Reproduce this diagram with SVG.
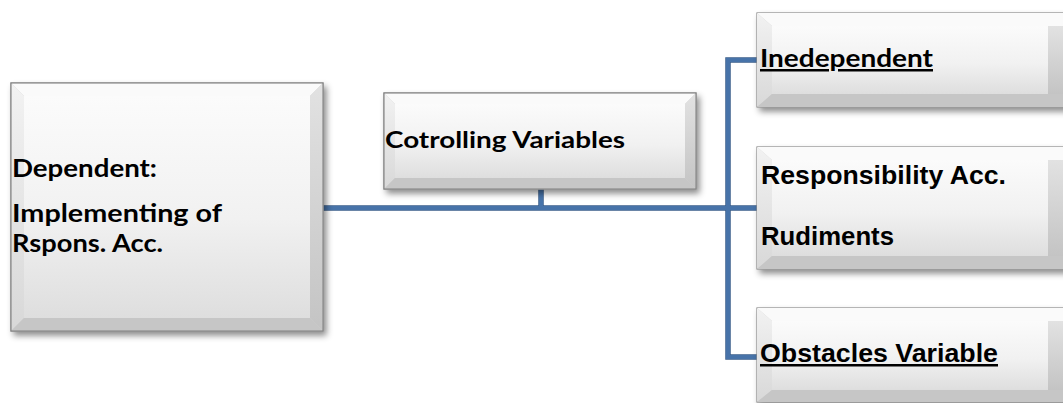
<svg xmlns="http://www.w3.org/2000/svg" width="1063" height="403" viewBox="0 0 1063 403">
<defs>
<linearGradient id="face" x1="0" y1="0" x2="0" y2="1"><stop offset="0" stop-color="#fbfbfb"/><stop offset="0.55" stop-color="#f1f1f1"/><stop offset="1" stop-color="#dedede"/></linearGradient>
<linearGradient id="lside" x1="0" y1="0" x2="0" y2="1"><stop offset="0" stop-color="#f2f2f2"/><stop offset="1" stop-color="#d8d8d8"/></linearGradient>
<linearGradient id="rside" x1="0" y1="0" x2="0" y2="1"><stop offset="0" stop-color="#e2e2e2"/><stop offset="1" stop-color="#c4c4c4"/></linearGradient>
<filter id="sh" x="-10%" y="-10%" width="130%" height="140%"><feDropShadow dx="3" dy="4" stdDeviation="3" flood-color="#000" flood-opacity="0.45"/></filter>
<style>
.o{fill:#d0d0d0;stroke:#8a8a8a;stroke-width:1.2;filter:url(#sh)}
.t{fill:#fafafa}.l{fill:url(#lside)}.r{fill:url(#rside)}.b{fill:#c6c6c6}.f{fill:url(#face)}
.cal{font-family:Lato,"Open Sans","Liberation Sans",sans-serif;font-weight:bold;fill:#000}
.ar{font-family:"Liberation Sans",Arial,sans-serif;font-weight:bold;fill:#000}
.u{text-decoration:underline}
.c{fill:none;stroke:#4773a9;stroke-width:4;stroke-linejoin:miter}
.co{fill:none;stroke:#3a5d8a;stroke-width:5.5}
</style>
</defs>
<g id="connectors">
<path class="co" d="M323 208H757M541 189V208M757 60H728V357H757"/>
<path class="c" d="M323 208H757M541 189V208M757 60H728V357H757"/>
</g>
<g id="dependent">
<rect class="o" x="11" y="83" width="312" height="248"/>
<polygon class="t" points="11,83 323,83 310,96 24,96"/>
<polygon class="l" points="11,83 24,96 24,318 11,331"/>
<polygon class="r" points="323,83 323,331 310,318 310,96"/>
<polygon class="b" points="11,331 323,331 310,318 24,318"/>
<rect class="f" x="24" y="96" width="286" height="222"/>
<rect x="11" y="83" width="312" height="248" fill="none" stroke="#8a8a8a" stroke-width="1.2"/>
<text class="cal" x="12" y="177" font-size="25" textLength="145" lengthAdjust="spacingAndGlyphs">Dependent:</text>
<text class="cal" x="12" y="222" font-size="25" textLength="210" lengthAdjust="spacingAndGlyphs">Implementing of</text>
<text class="cal" x="12" y="252" font-size="25" textLength="151" lengthAdjust="spacingAndGlyphs">Rspons. Acc.</text>
</g>
<g id="controlling">
<rect class="o" x="384" y="93" width="312" height="96"/>
<polygon class="t" points="384,93 696,93 685,104 395,104"/>
<polygon class="l" points="384,93 395,104 395,178 384,189"/>
<polygon class="r" points="696,93 696,189 685,178 685,104"/>
<polygon class="b" points="384,189 696,189 685,178 395,178"/>
<rect class="f" x="395" y="104" width="290" height="74"/>
<rect x="384" y="93" width="312" height="96" fill="none" stroke="#8a8a8a" stroke-width="1.2"/>
<text class="cal" x="385" y="148" font-size="23" textLength="240" lengthAdjust="spacingAndGlyphs">Cotrolling Variables</text>
</g>
<g id="independent">
<rect class="o" x="757" y="13" width="330" height="94"/>
<polygon class="t" points="757,13 1087,13 1072,26 772,26"/>
<polygon class="l" points="757,13 772,26 772,94 757,107"/>
<polygon class="b" points="757,107 1087,107 1072,94 772,94"/>
<rect class="f" x="772" y="26" width="276" height="68"/>
<polygon class="r" points="1048,26 1063,26 1063,94 1048,94"/>
<text class="cal u" x="760" y="67" font-size="25" textLength="173" lengthAdjust="spacingAndGlyphs">Inedependent</text>
</g>
<g id="responsibility">
<rect class="o" x="757" y="147" width="330" height="122"/>
<polygon class="t" points="757,147 1087,147 1072,160 772,160"/>
<polygon class="l" points="757,147 772,160 772,256 757,269"/>
<polygon class="b" points="757,269 1087,269 1072,256 772,256"/>
<rect class="f" x="772" y="160" width="276" height="96"/>
<polygon class="r" points="1048,160 1063,160 1063,256 1048,256"/>
<text class="ar" x="761" y="184" font-size="25" textLength="245" lengthAdjust="spacingAndGlyphs">Responsibility Acc.</text>
<text class="ar" x="761" y="245" font-size="25" textLength="133" lengthAdjust="spacingAndGlyphs">Rudiments</text>
</g>
<g id="obstacles">
<rect class="o" x="757" y="308" width="330" height="94"/>
<polygon class="t" points="757,308 1087,308 1072,321 772,321"/>
<polygon class="l" points="757,308 772,321 772,390 757,402"/>
<polygon class="b" points="757,402 1087,402 1072,390 772,390"/>
<rect class="f" x="772" y="321" width="276" height="69"/>
<polygon class="r" points="1048,321 1063,321 1063,390 1048,390"/>
<text class="ar u" x="760" y="362" font-size="25" textLength="238" lengthAdjust="spacingAndGlyphs">Obstacles Variable</text>
</g>
</svg>
